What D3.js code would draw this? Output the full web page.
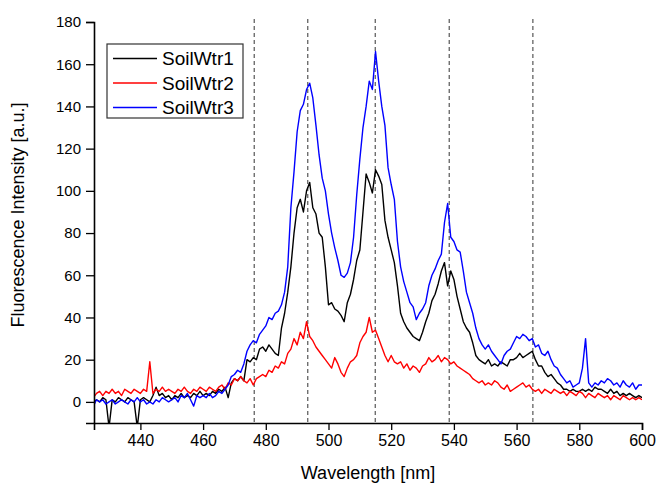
<!DOCTYPE html>
<html>
<head>
<meta charset="utf-8">
<script src="https://cdn.jsdelivr.net/npm/d3@7"></script>
<style>
  html, body { margin: 0; padding: 0; background: #fff; }
  svg { display: block; font-family: Arial, "Liberation Sans", sans-serif; }
</style>
</head>
<body>
<svg id="chart" width="657" height="483"></svg>
<script>
// Données (pas de 1 nm, 425 -> 600 nm)
const wlStart = 425;
const seriesNames = ["SoilWtr1", "SoilWtr2", "SoilWtr3"];
const seriesColors = ["#000000", "#ff0000", "#0000ff"];

const soilWtr1 = [
  0, 1, 0, 2, 1, -12, 1, 0, 2, 1, 0, 2, 1, 0, -12,
  1, 2, 1, 0, 3, 7, 3, 4, 2, 3, 1, 3, 2, 4, 2, 3, 2, 4, 3, 5,
  3, 4, 3, 5, 4, 6, 5, 7, 2, 9, 11, 10, 12, 10, 20, 19, 21, 20, 25, 26,
  24, 27, 25, 23, 22, 35, 42, 52, 64, 80, 92, 96, 90, 100, 104, 92, 89, 80, 78, 64,
  46, 47, 44, 43, 41, 38, 47, 51, 58, 67, 72, 90, 108, 104, 99, 110, 107, 103, 86, 78,
  72, 66, 55, 42, 38, 35, 33, 31, 30, 29, 33, 38, 42, 48, 51, 56, 62, 66, 55, 62,
  58, 50, 44, 38, 35, 33, 28, 22, 20, 19, 18, 20, 17, 18, 17, 19, 18, 17, 20, 20,
  21, 23, 21, 22, 23, 24, 20, 17, 17, 14, 12, 13, 11, 9, 8, 6, 6, 5, 6, 5,
  5, 6, 5, 6, 5, 7, 6, 6, 5, 4, 6, 4, 5, 3, 4, 3, 4, 3, 2, 3, 2
];

const soilWtr2 = [
  2, 4, 5, 3, 5, 4, 6, 4, 5, 3, 6, 5, 4, 6, 5,
  4, 6, 5, 19, 4, 6, 5, 7, 5, 6, 5, 4, 6, 5, 7, 5, 4, 6, 5, 7,
  6, 5, 7, 6, 5, 7, 8, 6, 9, 8, 11, 10, 12, 10, 9, 11, 8, 11, 12, 13,
  12, 15, 14, 17, 16, 19, 18, 23, 25, 30, 27, 33, 30, 38, 31, 29, 26, 24, 22, 20,
  18, 16, 21, 18, 14, 12, 16, 19, 20, 22, 28, 31, 33, 40, 33, 34, 30, 26, 22, 19,
  22, 19, 18, 19, 16, 18, 15, 17, 16, 14, 17, 18, 21, 19, 20, 22, 19, 21, 20, 18,
  19, 17, 16, 15, 14, 13, 11, 10, 9, 10, 8, 9, 8, 10, 9, 7, 6, 8, 5, 6,
  7, 8, 9, 7, 8, 6, 5, 6, 4, 6, 5, 4, 6, 5, 4, 5, 3, 5, 4, 3,
  5, 4, 2, 4, 3, 2, 4, 3, 2, 3, 1, 3, 2, 1, 3, 2, 1, 2, 1, 2, 1
];

const soilWtr3 = [
  -2, 1, 0, 1, -1, 0, 1, -1, 0, 1, 0, -1, 1, 0, 2,
  0, 1, -1, 0, -1, 1, 0, 2, 1, 0, 1, 2, 0, 3, 2, 4, 1, -2, 3, 2,
  3, 2, 4, 2, 3, 5, 4, 6, 8, 12, 13, 15, 14, 18, 24, 27, 29, 28, 32, 34,
  36, 40, 39, 42, 43, 46, 52, 64, 92, 109, 128, 138, 141, 148, 151, 144, 131, 117, 106, 100,
  89, 80, 73, 67, 60, 59, 61, 66, 78, 98, 115, 130, 140, 152, 148, 166, 152, 140, 131, 111,
  103, 96, 76, 64, 57, 52, 47, 45, 39, 42, 44, 47, 55, 60, 63, 67, 70, 85, 94, 78,
  76, 72, 71, 62, 52, 47, 42, 35, 30, 27, 25, 27, 24, 22, 20, 18, 22, 24, 25, 28,
  31, 30, 32, 31, 29, 30, 26, 27, 23, 22, 24, 20, 17, 16, 13, 11, 9, 10, 7, 8,
  9, 16, 30, 9, 7, 9, 8, 10, 9, 11, 10, 8, 9, 7, 10, 8, 7, 9, 6, 8, 8
];

const allSeries = [soilWtr1, soilWtr2, soilWtr3];
const dashedLines = [476.3, 493.4, 514.9, 538.5, 565.2];
const xTicks = [440, 460, 480, 500, 520, 540, 560, 580, 600];
const yTicks = [0, 20, 40, 60, 80, 100, 120, 140, 160, 180];

// Zone de tracé
const plot = { left: 94, right: 642, top: 22, bottom: 423 };
const svg = d3.select("#chart");

const x = d3.scaleLinear().domain([425.2, 600]).range([plot.left, plot.right]);
const y = d3.scaleLinear().domain([-10, 180]).range([plot.bottom, plot.top]);

svg.append("defs").append("clipPath").attr("id", "clip")
  .append("rect")
  .attr("x", plot.left).attr("y", plot.top)
  .attr("width", plot.right - plot.left).attr("height", plot.bottom - plot.top);

// Lignes pointillées
svg.append("g")
  .selectAll("line")
  .data(dashedLines)
  .enter().append("line")
  .attr("x1", d => x(d)).attr("x2", d => x(d))
  .attr("y1", plot.top - 3).attr("y2", plot.bottom)
  .attr("stroke", "#333")
  .attr("stroke-width", 1)
  .attr("stroke-dasharray", "4,3");

// Courbes
const line = d3.line()
  .x((d, i) => x(wlStart + i))
  .y(d => y(d));

svg.append("g")
  .attr("clip-path", "url(#clip)")
  .selectAll("path")
  .data(allSeries)
  .enter().append("path")
  .attr("d", line)
  .attr("fill", "none")
  .attr("stroke", (d, i) => seriesColors[i])
  .attr("stroke-width", 1.4)
  .attr("stroke-linejoin", "round");

// Axe X
const xMinor = d3.range(430, 601, 10);
const gx = svg.append("g").attr("transform", `translate(0,${plot.bottom})`);
gx.call(d3.axisBottom(x).tickValues(xMinor).tickSize(4).tickFormat(""));
gx.call(d3.axisBottom(x).tickValues(xTicks).tickSize(7).tickPadding(5).tickFormat(d3.format("d")));
gx.select(".domain").attr("stroke-width", 1.6);
gx.selectAll(".tick line").attr("stroke-width", 1.3);
gx.selectAll("text").attr("font-size", 16).attr("fill", "#000").attr("font-family", "Arial, 'Liberation Sans', sans-serif");

// Axe Y
const yMinor = d3.range(-10, 181, 10);
const gy = svg.append("g").attr("transform", `translate(${plot.left},0)`);
gy.call(d3.axisLeft(y).tickValues(yMinor).tickSize(4).tickFormat(""));
gy.call(d3.axisLeft(y).tickValues(yTicks).tickSize(8).tickPadding(5).tickFormat(d3.format("d")));
gy.select(".domain").attr("stroke-width", 1.6);
gy.selectAll(".tick line").attr("stroke-width", 1.3);
gy.selectAll("text").attr("font-size", 15).attr("fill", "#000").attr("font-family", "Arial, 'Liberation Sans', sans-serif");

// Titres des axes
svg.append("text")
  .attr("x", 368).attr("y", 479)
  .attr("text-anchor", "middle")
  .attr("font-size", 18)
  .text("Wavelength [nm]");

svg.append("text")
  .attr("transform", "translate(24,215) rotate(-90)")
  .attr("text-anchor", "middle")
  .attr("font-size", 18)
  .text("Fluorescence Intensity [a.u.]");

// Légende
const legend = svg.append("g");
legend.append("rect")
  .attr("x", 107).attr("y", 44)
  .attr("width", 136).attr("height", 74)
  .attr("fill", "#fff")
  .attr("stroke", "#333")
  .attr("stroke-width", 1.2);

seriesNames.forEach((name, i) => {
  const ly = 58.5 + i * 24.5;
  legend.append("line")
    .attr("x1", 113).attr("x2", 157)
    .attr("y1", ly).attr("y2", ly)
    .attr("stroke", seriesColors[i])
    .attr("stroke-width", 1.4);
  legend.append("text")
    .attr("x", 162).attr("y", ly)
    .attr("dy", "0.35em")
    .attr("font-size", 19)
    .text(name);
});
</script>
</body>
</html>
